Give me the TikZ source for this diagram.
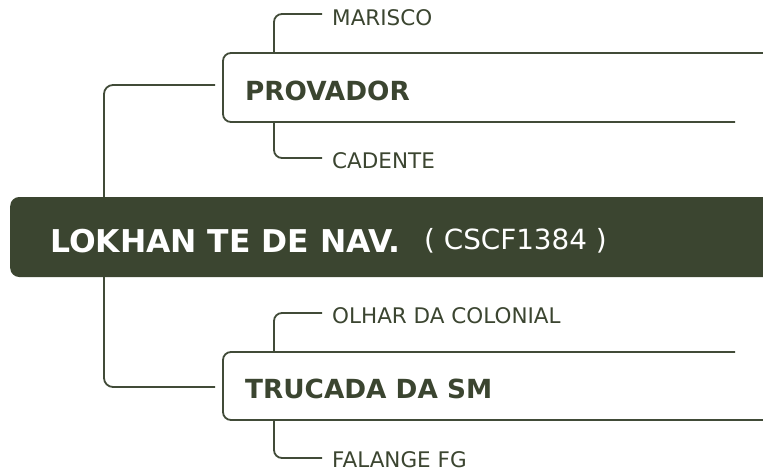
\documentclass[tikz,border=0pt]{standalone}
\usepackage{fontspec}
\setmainfont{DejaVu Sans}
\definecolor{olive}{HTML}{3B4530}
\definecolor{lineol}{HTML}{414B38}
\tikzset{
  conn/.style={draw=lineol, line width=1.8pt, rounded corners=9pt},
  boxline/.style={draw=lineol, line width=1.8pt, rounded corners=8pt},
  roottxt/.style={text=white, font=\fontsize{31.4}{34}\selectfont\bfseries, inner sep=0pt, anchor=base west},
  codetxt/.style={text=white, font=\fontsize{27.8}{32}\selectfont, inner sep=0pt, anchor=base west},
  midtxt/.style={text=olive, font=\fontsize{26.3}{30}\selectfont\bfseries, inner sep=0pt, anchor=base west},
  subtxt/.style={text=olive, font=\fontsize{21.5}{24}\selectfont, inner sep=0pt, anchor=base west},
}
\begin{document}
\begin{tikzpicture}[x=1pt,y=-1pt]
\useasboundingbox (0,0) rectangle (763,471);
\clip (0,0) rectangle (763,471);
% root bar
\node[fill=olive, rounded corners=9pt, minimum width=790pt, minimum height=80pt, inner sep=0pt, anchor=west] (root) at (10,237) {};
\node[roottxt] (roottext) at (50,252) {LOKHAN TE DE NAV.};
\node[codetxt] (code) at (424,249) {( CSCF1384 )};
% branch boxes
\coordinate (provTop) at (223,53);
\coordinate (provIn) at (215,85);
\coordinate (trucTop) at (223,352);
\coordinate (trucIn) at (215,387);
\draw[boxline] (790,53) -- (provTop) -- (223,122) -- (735,122);
\draw[boxline] (735,352) -- (trucTop) -- (223,420) -- (790,420);
\node[midtxt] (prov) at (245,100) {PROVADOR};
\node[midtxt] (truc) at (245,398) {TRUCADA DA SM};
% trunk connectors
\draw[conn] ([xshift=94pt]root.north west) |- (provIn);
\draw[conn] ([xshift=94pt]root.south west) |- (trucIn);
% leaves
\node[subtxt] (mar) at (332,25) {MARISCO};
\node[subtxt] (cad) at (332,168) {CADENTE};
\node[subtxt] (olh) at (332,323) {OLHAR DA COLONIAL};
\node[subtxt] (fal) at (332,467) {FALANGE FG};
\coordinate (marEnd) at (322,14);
\coordinate (cadEnd) at (322,158);
\coordinate (olhEnd) at (322,313);
\coordinate (falEnd) at (322,458);
\draw[conn, rounded corners=8pt] (274,53) |- (marEnd);
\draw[conn, rounded corners=8pt] (274,122) |- (cadEnd);
\draw[conn, rounded corners=8pt] (274,352) |- (olhEnd);
\draw[conn, rounded corners=8pt] (274,420) |- (falEnd);
\end{tikzpicture}
\end{document}
